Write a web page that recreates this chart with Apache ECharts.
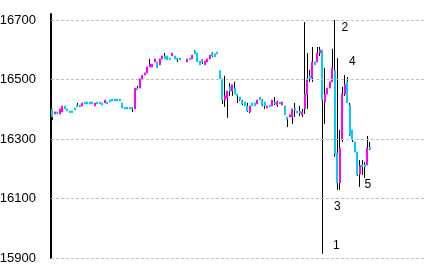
<!DOCTYPE html>
<html><head><meta charset="utf-8">
<script src="https://cdn.jsdelivr.net/npm/echarts@6/dist/echarts.min.js"></script>
<style>html,body{margin:0;padding:0;background:#fff}#c{width:436px;height:272px}</style>
</head><body><div id="c"></div>
<script>
// time slots (no visible labels)
const slotCount = 150;
const categories = [];
for (let i = 0; i < slotCount; i++) categories.push('t' + i);

// [open, close, low, high]
const candles = [
[16401,16374,16364,16401],[16384,16391,16384,16391],[16391,16387,16385,16391],[16384,16401,16384,16401],
[16391,16411,16391,16411],[16411,16401,16401,16411],[16401,16394,16394,16401],[16394,16389,16389,16394],
[16394,16389,16389,16394],[16404,16398,16398,16404],[16414,16408,16408,16421],[16414,16408,16408,16414],
[16411,16421,16411,16421],[16424,16418,16418,16424],[16424,16418,16418,16424],[16424,16418,16418,16424],
[16424,16418,16418,16424],[16411,16421,16411,16421],[16424,16418,16418,16424],[16424,16418,16418,16424],
[16421,16414,16414,16421],[16421,16431,16421,16431],[16424,16418,16418,16424],[16431,16424,16424,16431],
[16434,16428,16428,16434],[16434,16428,16428,16434],[16434,16428,16428,16434],[16434,16428,16428,16434],
[16421,16404,16404,16421],[16406,16401,16401,16406],[16406,16401,16401,16406],[16406,16401,16401,16406],
[16406,16401,16391,16406],[16401,16471,16401,16471],[16471,16465,16465,16478],[16471,16502,16471,16502],
[16502,16512,16502,16515],[16515,16522,16515,16522],[16522,16542,16522,16542],[16542,16552,16542,16569],
[16542,16552,16542,16552],[16559,16569,16559,16569],[16559,16539,16539,16559],[16549,16569,16549,16569],
[16569,16579,16569,16579],[16579,16569,16569,16589],[16579,16566,16566,16579],[16572,16566,16566,16572],
[16579,16589,16579,16589],[16579,16569,16569,16579],[16572,16566,16559,16572],[16572,16566,16566,16572],
null,null,
[16559,16569,16559,16569],[16572,16566,16566,16572],[16569,16582,16569,16582],[16596,16586,16586,16599],
[16589,16559,16559,16589],[16562,16549,16549,16562],[16566,16559,16552,16569],[16549,16562,16549,16562],
[16559,16569,16559,16569],[16569,16582,16569,16582],[16589,16579,16576,16592],[16586,16576,16576,16586],
[16592,16586,16586,16592],[16529,16502,16502,16529],[16502,16431,16418,16502],[16431,16445,16408,16512],
[16438,16461,16371,16461],[16475,16461,16445,16488],[16461,16482,16445,16482],[16471,16451,16451,16492],
[16451,16445,16421,16451],[16441,16431,16428,16441],[16428,16418,16414,16431],[16424,16411,16411,16424],
[16411,16394,16391,16421],[16391,16411,16387,16411],[16421,16411,16411,16421],[16421,16411,16411,16421],
[16418,16431,16418,16431],[16441,16431,16431,16441],[16431,16414,16410,16434],[16424,16411,16401,16424],
[16404,16411,16404,16411],[16414,16408,16408,16414],[16411,16431,16411,16431],[16424,16418,16414,16441],
[16414,16424,16408,16428],[16424,16418,16418,16424],[16414,16424,16414,16424],[16411,16381,16381,16411],
[16374,16367,16340,16374],[16374,16381,16374,16381],[16374,16401,16350,16401],[16404,16398,16374,16421],
[16394,16387,16387,16394],[16394,16387,16377,16411],[16381,16391,16374,16401],[16401,16451,16384,16693],
[16451,16502,16401,16589],[16512,16502,16492,16532],[16505,16559,16492,16609],[16559,16549,16549,16559],
[16559,16589,16559,16609],[16589,16599,16579,16609],[16599,16431,15914,16599],[16424,16451,16350,16539],
[16451,16471,16451,16471],[16471,16492,16471,16492],[16492,16539,16492,16603],[16529,16250,16240,16700],
[16253,16152,16129,16572],[16152,16270,16129,16330],[16297,16451,16290,16475],[16451,16482,16445,16515],
[16492,16421,16421,16508],[16414,16313,16310,16421],[16330,16297,16290,16330],[16290,16256,16256,16290],
[16256,16179,16175,16256],[16182,16210,16139,16229],[16213,16206,16179,16229],[16213,16206,16169,16222],
[16213,16270,16213,16310],[16273,16266,16263,16290]
];

const yTicks = [15900, 16100, 16300, 16500, 16700];

// annotation numbers attached to candle extremes
const annotationText = ['1', '2', '3', '4', '5'];
const annotationIndex = [108, 113, 114, 114, 123];
const annotationValue = [15914, 16700, 16129, 16572, 16139];

// ---- build options ----
const labelOffsets = [[14, -8], [10, 8], [0, 17], [15, 4], [8, -2]];
const fullData = categories.map((c, i) => { const d = candles[i]; return d ? d : '-'; });
const bodyData = categories.map((c, i) => {
  const d = candles[i];
  if (!d) return '-';
  return [d[0], d[1], Math.min(d[0], d[1]), Math.max(d[0], d[1])];
});

const chart = echarts.init(document.getElementById('c'), null, { renderer: 'canvas' });
chart.setOption({
  animation: false,
  backgroundColor: '#fff',
  grid: { left: 51, right: 10, top: 14, bottom: 14, containLabel: false, outerBoundsMode: 'none' },
  xAxis: {
    type: 'category', data: categories, boundaryGap: true,
    axisLine: { show: false }, axisTick: { show: false }, axisLabel: { show: false }, splitLine: { show: false }
  },
  yAxis: {
    type: 'value', min: 15900, max: 16720, interval: 200,
    axisLine: { show: true, lineStyle: { color: '#000', width: 2 } },
    axisTick: { show: true, inside: true, length: 2, lineStyle: { color: '#000', width: 1 } },
    axisLabel: { show: true, showMaxLabel: false, margin: 15, color: '#000', fontSize: 13,
      formatter: v => String(v),
      fontFamily: '"Liberation Sans Narrow", "Liberation Sans", sans-serif' },
    splitLine: { show: false }
  },
  series: [
    {
      type: 'line', data: categories.map(() => '-'), z: 1, silent: true, symbol: 'none',
      markLine: {
        silent: true, symbol: ['none', 'none'], animation: false,
        label: { show: false },
        lineStyle: { color: '#c0c0c0', type: [3, 2], width: 1 },
        data: yTicks.map(v => ({ yAxis: v }))
      }
    },
    {
      type: 'candlestick', data: fullData, z: 3, barWidth: 1,
      itemStyle: { color: '#000', color0: '#000', borderColor: '#000', borderColor0: '#000', borderWidth: 1 }
    },
    {
      type: 'candlestick', data: bodyData, z: 4, barWidth: 1.9,
      itemStyle: { color: '#ff00ff', color0: '#00ccff', borderColor: '#ff00ff', borderColor0: '#00ccff', borderWidth: 1 },
      markPoint: {
        symbol: 'circle', symbolSize: 1, silent: true, animation: false,
        itemStyle: { color: 'rgba(0,0,0,0)' },
        label: { show: true, position: 'inside', color: '#000', fontSize: 12,
          fontFamily: '"Liberation Sans", sans-serif', formatter: p => p.name },
        data: annotationText.map((t, k) => ({
          name: t,
          coord: [categories[annotationIndex[k]], annotationValue[k]],
          label: { offset: labelOffsets[k] }
        }))
      }
    }
  ]
});
</script>
</body></html>
